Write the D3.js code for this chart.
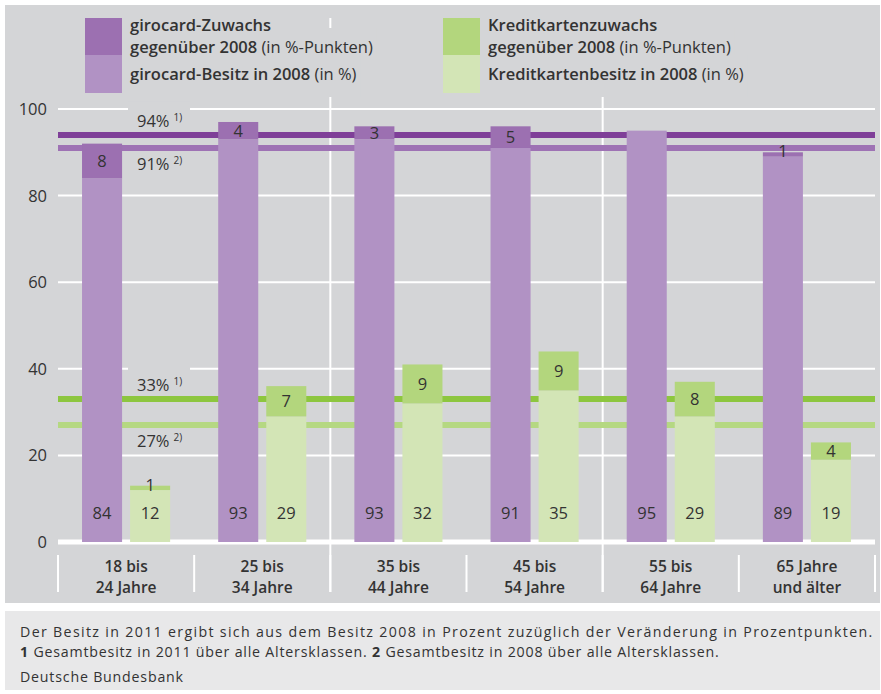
<!DOCTYPE html>
<html>
<head>
<meta charset="utf-8">
<script src="https://cdn.jsdelivr.net/npm/d3@7"></script>
<style>
  body { margin: 0; background: #fff; }
  svg { display: block; font-family: "Open Sans", sans-serif; }
</style>
</head>
<body>
<div id="chart"></div>
<script>
// Altersklassen (zweizeilig)
const categories = [
  ["18 bis", "24 Jahre"],
  ["25 bis", "34 Jahre"],
  ["35 bis", "44 Jahre"],
  ["45 bis", "54 Jahre"],
  ["55 bis", "64 Jahre"],
  ["65 Jahre", "und älter"],
];
const girocardBase = [84, 93, 93, 91, 95, 89];
const girocardGrowth = [8, 4, 3, 5, 0, 1];
const creditBase = [12, 29, 32, 35, 29, 19];
const creditGrowth = [1, 7, 9, 9, 8, 4];
const yTicks = [0, 20, 40, 60, 80, 100];
// Gesamtbesitz-Linien
const refValues = [94, 91, 33, 27];
const refLabels = ["94%", "91%", "33%", "27%"];
const refNotes = ["1)", "2)", "1)", "2)"];

const W = 881, H = 694;
const textColor = "#333";
const colors = {
  panel: "#d4d5d7",
  footer: "#e8e8e9",
  gBase: "#b192c4",
  gGrow: "#9c70b1",
  kBase: "#d3e5b6",
  kGrow: "#b3d67d",
  ref: ["#7f3f98", "#9e72b4", "#8dc63f", "#b5d882"],
};

const svg = d3.select("#chart").append("svg")
  .attr("width", W).attr("height", H);

// Hintergrundflächen
svg.append("rect").attr("x", 5).attr("y", 5).attr("width", 875).attr("height", 598)
  .attr("fill", colors.panel);
svg.append("rect").attr("x", 5).attr("y", 611).attr("width", 875).attr("height", 79)
  .attr("fill", colors.footer);

const y = d3.scaleLinear().domain([0, 100]).range([542, 109]);
const x = d3.scaleBand().domain(d3.range(categories.length)).range([58, 875]);
const xs = d3.scaleBand().domain(["g", "k"]).range([0, x.bandwidth()])
  .paddingInner(1 / 6).paddingOuter(0.5);

// Gitterlinien
svg.append("g").selectAll("line").data(yTicks).join("line")
  .attr("x1", 58).attr("x2", 875)
  .attr("y1", d => y(d)).attr("y2", d => y(d))
  .attr("stroke", "#fff").attr("stroke-width", d => d === 0 ? 5 : 2);

svg.append("g").selectAll("text").data(yTicks).join("text")
  .attr("x", 47).attr("y", d => y(d) + 6)
  .attr("text-anchor", "end").attr("font-size", 16.5).attr("fill", textColor)
  .text(d => d);

// senkrechte Trennlinien
svg.append("g").selectAll("line").data([2, 4]).join("line")
  .attr("x1", d => x(d)).attr("x2", d => x(d))
  .attr("y1", 18).attr("y2", 592)
  .attr("stroke", "#fff").attr("stroke-width", 2);
svg.append("g").selectAll("line").data(d3.range(categories.length + 1)).join("line")
  .attr("x1", d => d < categories.length ? x(d) : x.range()[1])
  .attr("x2", d => d < categories.length ? x(d) : x.range()[1])
  .attr("y1", 555).attr("y2", 592)
  .attr("stroke", "#fff").attr("stroke-width", 2);

// Kategorien
const cat = svg.append("g").selectAll("text").data(categories).join("text")
  .attr("text-anchor", "middle").attr("font-size", 15.5).attr("font-weight", 600)
  .attr("fill", textColor);
cat.selectAll("tspan").data((d, i) => d.map(t => ({ t, i }))).join("tspan")
  .attr("x", d => x(d.i) + x.bandwidth() / 2)
  .attr("y", (d, j) => 572 + j * 21)
  .text(d => d.t);

// Referenzlinien
svg.append("g").selectAll("line").data(refValues).join("line")
  .attr("x1", 58).attr("x2", 875)
  .attr("y1", d => y(d)).attr("y2", d => y(d))
  .attr("stroke", (d, i) => colors.ref[i]).attr("stroke-width", 6);

const refG = svg.append("g").selectAll("g").data(refValues).join("g")
  .attr("transform", (d, i) => `translate(137,${i % 2 === 0 ? y(d) - 8 : y(d) + 22})`);
// nur die oberen Beschriftungen unterbrechen die Gitterlinie
refG.filter((d, i) => i % 2 === 0).append("rect")
  .attr("x", -9).attr("y", -25).attr("width", 62).attr("height", 29)
  .attr("fill", colors.panel);
const refT = refG.append("text").attr("font-size", 16.5).attr("fill", textColor);
refT.append("tspan").text((d, i) => refLabels[i]);
refT.append("tspan").attr("dx", 4).attr("dy", -6).attr("font-size", 10)
  .text((d, i) => refNotes[i]);

// Balken
const series = [
  { key: "g", base: girocardBase, grow: girocardGrowth, cBase: colors.gBase, cGrow: colors.gGrow },
  { key: "k", base: creditBase, grow: creditGrowth, cBase: colors.kBase, cGrow: colors.kGrow },
];
const bars = svg.append("g");
series.forEach(s => {
  const data = s.base.map((b, i) => ({ i, b, g: s.grow[i] }));
  const bx = d => x(d.i) + xs(s.key);
  bars.append("g").selectAll("rect").data(data).join("rect")
    .attr("x", bx).attr("width", xs.bandwidth())
    .attr("y", d => y(d.b)).attr("height", d => y(0) - y(d.b))
    .attr("fill", s.cBase);
  bars.append("g").selectAll("rect").data(data.filter(d => d.g > 0)).join("rect")
    .attr("x", bx).attr("width", xs.bandwidth())
    .attr("y", d => y(d.b + d.g)).attr("height", d => y(d.b) - y(d.b + d.g))
    .attr("fill", s.cGrow);
  // Werte
  bars.append("g").selectAll("text").data(data).join("text")
    .attr("x", d => bx(d) + xs.bandwidth() / 2).attr("y", 519)
    .attr("text-anchor", "middle").attr("font-size", 16.5).attr("fill", textColor)
    .text(d => d.b);
  bars.append("g").selectAll("text").data(data.filter(d => d.g > 0)).join("text")
    .attr("x", d => bx(d) + xs.bandwidth() / 2)
    .attr("y", d => (d.g <= 1 ? y(d.b + d.g) - 1 : (y(d.b) + y(d.b + d.g)) / 2) + 6)
    .attr("text-anchor", "middle").attr("font-size", 16.5).attr("fill", textColor)
    .text(d => d.g);
});

// Legende
const legend = [
  { x: 85, top: colors.gGrow, bottom: colors.gBase,
    rows: [["girocard-Zuwachs", ""], ["gegenüber 2008", " (in %-Punkten)"], ["girocard-Besitz in 2008", " (in %)"]] },
  { x: 443, top: colors.kGrow, bottom: colors.kBase,
    rows: [["Kreditkartenzuwachs", ""], ["gegenüber 2008", " (in %-Punkten)"], ["Kreditkartenbesitz in 2008", " (in %)"]] },
];
const rowY = [31, 53, 80];
legend.forEach(l => {
  const g = svg.append("g");
  l.rows.forEach((r, j) => {
    const t = g.append("text").attr("x", l.x + 45).attr("y", rowY[j])
      .attr("font-size", 16.5).attr("fill", textColor);
    t.append("tspan").attr("font-weight", 600).text(r[0]);
    t.append("tspan").attr("font-weight", 400).text(r[1]);
    const bb = t.node().getBBox();
    g.insert("rect", "text")
      .attr("x", bb.x - 4).attr("width", bb.width + 8)
      .attr("y", rowY[j] - 25).attr("height", j === 2 ? 42 : 30)
      .attr("fill", colors.panel);
  });
  g.append("rect").attr("x", l.x).attr("y", 18).attr("width", 37).attr("height", 37).attr("fill", l.top);
  g.append("rect").attr("x", l.x).attr("y", 55).attr("width", 37).attr("height", 38).attr("fill", l.bottom);
});

// Fußnoten
const foot = svg.append("g").attr("font-size", 14.2).attr("letter-spacing", 0.8)
  .attr("fill", textColor);
foot.append("text").attr("x", 20).attr("y", 637)
  .attr("textLength", 853).attr("lengthAdjust", "spacing")
  .text("Der Besitz in 2011 ergibt sich aus dem Besitz 2008 in Prozent zuzüglich der Veränderung in Prozentpunkten.");
const f2 = foot.append("text").attr("x", 20).attr("y", 657);
f2.append("tspan").attr("font-weight", 700).text("1");
f2.append("tspan").text(" Gesamtbesitz in 2011 über alle Altersklassen. ");
f2.append("tspan").attr("font-weight", 700).text("2");
f2.append("tspan").text(" Gesamtbesitz in 2008 über alle Altersklassen.");
foot.append("text").attr("x", 20).attr("y", 682).text("Deutsche Bundesbank");
</script>
</body>
</html>
